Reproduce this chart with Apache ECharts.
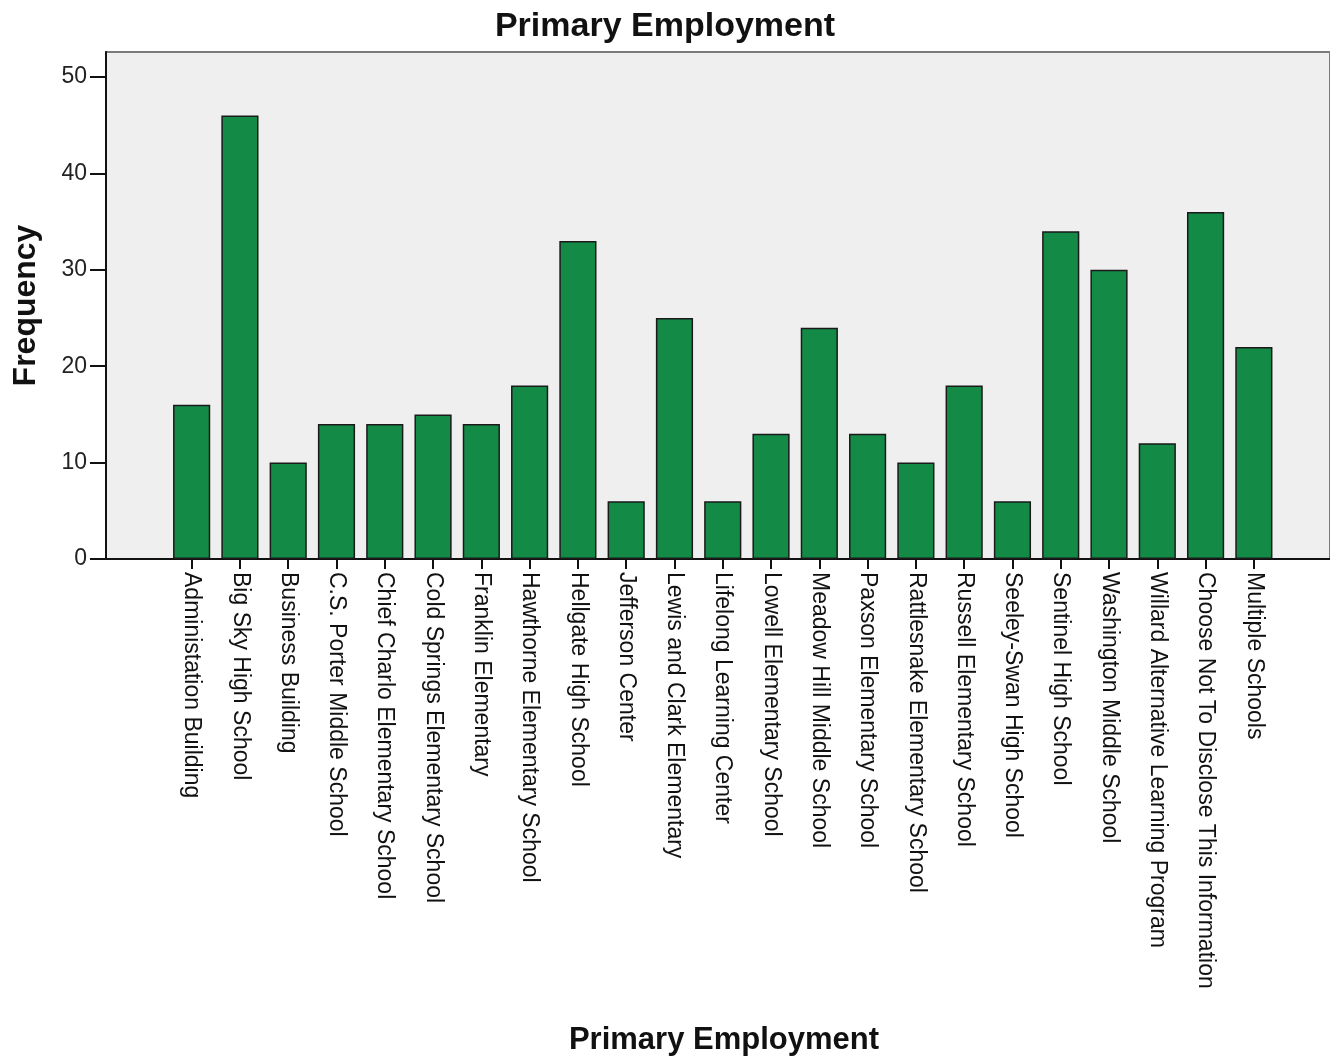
<!DOCTYPE html>
<html>
<head>
<meta charset="utf-8">
<script src="https://cdn.jsdelivr.net/npm/echarts@6/dist/echarts.min.js"></script>
<style>
html,body{margin:0;padding:0;background:#fff;}
#chart{width:1330px;height:1056px;}
</style>
</head>
<body>
<div id="chart"></div>
<script>
const titleText = 'Primary Employment';
const xAxisTitle = 'Primary Employment';
const yAxisTitle = 'Frequency';
const categories = [
  'Administation Building',
  'Big Sky High School',
  'Business Building',
  'C.S. Porter Middle School',
  'Chief Charlo Elementary School',
  'Cold Springs Elementary School',
  'Franklin Elementary',
  'Hawthorne Elementary School',
  'Hellgate High School',
  'Jefferson Center',
  'Lewis and Clark Elementary',
  'Lifelong Learning Center',
  'Lowell Elementary School',
  'Meadow Hill Middle School',
  'Paxson Elementary School',
  'Rattlesnake Elementary School',
  'Russell Elementary School',
  'Seeley-Swan High School',
  'Sentinel High School',
  'Washington Middle School',
  'Willard Alternative Learning Program',
  'Choose Not To Disclose This Information',
  'Multiple Schools'
];
const frequency = [16, 46, 10, 14, 14, 15, 14, 18, 33, 6, 25, 6, 13, 24, 13, 10, 18, 6, 34, 30, 12, 36, 22];
const yTicks = [0, 10, 20, 30, 40, 50];
const yMax = 52.6;

const FONT = '"Liberation Sans", Arial, sans-serif';
const chart = echarts.init(document.getElementById('chart'), null, {renderer: 'canvas'});
chart.setOption({
  animation: false,
  backgroundColor: '#ffffff',
  title: {
    text: titleText,
    left: 'center',
    top: 5,
    textStyle: {fontFamily: FONT, fontSize: 34, fontWeight: 'bold', color: '#111'}
  },
  grid: [
    {left: 106, right: 0, top: 52, bottom: 497, containLabel: false, outerBoundsMode: 'none',
     show: true, backgroundColor: '#efefef', borderColor: '#7a7a7a', borderWidth: 2},
    {left: 167.5, right: 52, top: 52, bottom: 497, containLabel: false, outerBoundsMode: 'none'}
  ],
  xAxis: [
    {
      gridIndex: 0, type: 'category', data: [''],
      axisLine: {show: true, lineStyle: {color: '#111', width: 2}},
      axisTick: {show: false}, axisLabel: {show: false},
      name: xAxisTitle, nameLocation: 'middle', nameGap: 466,
      nameTextStyle: {fontFamily: FONT, fontSize: 31, fontWeight: 'bold', color: '#111', padding: [0, 0, 0, 12]}
    },
    {
      gridIndex: 1, type: 'category', data: categories,
      axisLine: {show: false},
      axisTick: {show: true, alignWithLabel: true, length: 10, lineStyle: {color: '#111', width: 2}},
      axisLabel: {rotate: -90, interval: 0, margin: 13, fontFamily: FONT, fontSize: 23, color: '#111'}
    }
  ],
  yAxis: [
    {
      gridIndex: 0, type: 'value', min: 0, max: yMax, interval: 10,
      axisLine: {show: true, lineStyle: {color: '#111', width: 2}},
      axisTick: {show: true, length: 16, customValues: yTicks, lineStyle: {color: '#111', width: 2}},
      axisLabel: {margin: 19, customValues: yTicks, fontFamily: FONT, fontSize: 23, color: '#222'},
      splitLine: {show: false},
      name: yAxisTitle, nameLocation: 'middle', nameGap: 64,
      nameTextStyle: {fontFamily: FONT, fontSize: 32, fontWeight: 'bold', color: '#111'}
    },
    {
      gridIndex: 1, type: 'value', min: 0, max: yMax, interval: 10, show: false
    }
  ],
  series: [{
    type: 'bar',
    xAxisIndex: 1, yAxisIndex: 1,
    data: frequency,
    barCategoryGap: '23%',
    itemStyle: {color: '#138b47', borderColor: '#1a1a1a', borderWidth: 1.5}
  }]
});
</script>
</body>
</html>
